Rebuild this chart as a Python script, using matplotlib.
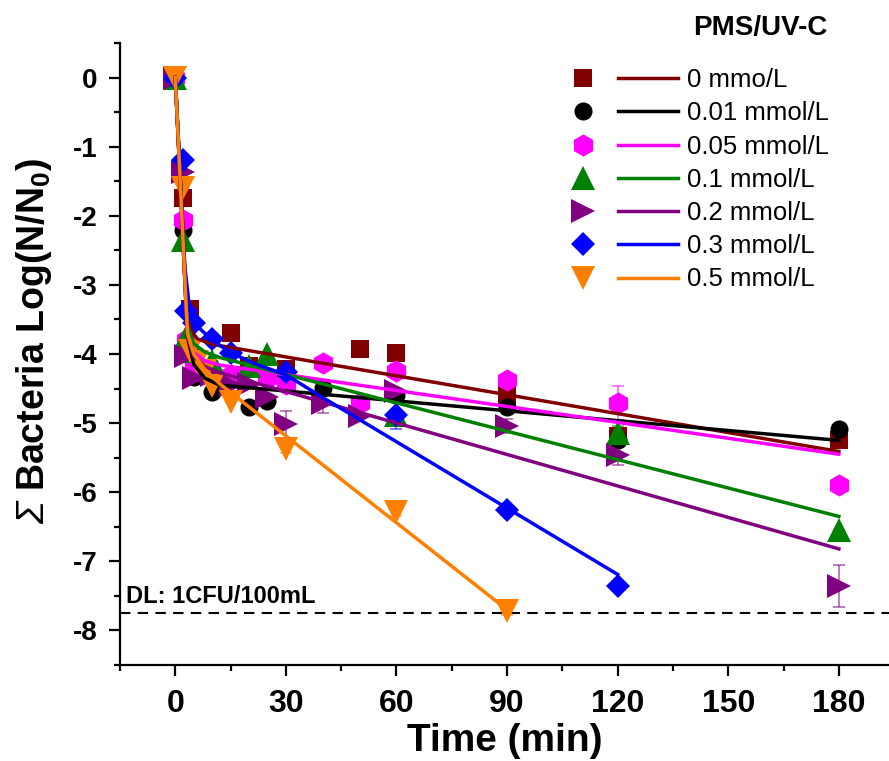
import numpy as np
import matplotlib
matplotlib.use('Agg')
import matplotlib.pyplot as plt
from matplotlib.lines import Line2D
from matplotlib.legend_handler import HandlerBase
from matplotlib.ticker import MultipleLocator

plt.rcParams['font.family'] = ['Liberation Sans', 'DejaVu Sans']
plt.rcParams['axes.unicode_minus'] = False
plt.rcParams['mathtext.fontset'] = 'custom'
plt.rcParams['mathtext.rm'] = 'Liberation Sans:bold'
plt.rcParams['mathtext.it'] = 'Liberation Sans:italic'
plt.rcParams['mathtext.bf'] = 'Liberation Sans:bold'
plt.rcParams['mathtext.cal'] = 'Liberation Sans:italic'

# measured points (time in min, log reduction)
labels = ['0 mmo/L', '0.01 mmol/L', '0.05 mmol/L', '0.1 mmol/L',
          '0.2 mmol/L', '0.3 mmol/L', '0.5 mmol/L']
colors = ['#800000', '#000000', '#ff00ff', '#008000', '#800080', '#0000ff', '#ff8000']
markers = ['s', 'o', 'h', '^', '>', 'D', 'v']
msizes = [13, 13, 16, 17, 17, 12.5, 17]

t_0 = [0, 2, 4, 15, 20, 30, 50, 60, 90, 120, 180]
y_0 = [0, -1.74, -3.35, -3.7, -4.17, -4.22, -3.93, -3.99, -4.59, -5.19, -5.24]
e_0 = [0, 0, 0, 0, 0, 0, 0, 0, 0, 0, 0]

t_01 = [0, 2, 3, 5, 10, 20, 25, 40, 60, 90, 120, 180]
y_01 = [0, -2.2, -3.94, -4.33, -4.55, -4.77, -4.68, -4.49, -4.59, -4.77, -5.24, -5.09]
e_01 = [0, 0, 0, 0, 0, 0, 0, 0, 0, 0, 0.1, 0]

t_05 = [0, 2, 3, 5, 15, 25, 30, 40, 50, 60, 90, 120, 180]
y_05 = [0, -2.06, -3.8, -4.18, -4.3, -4.35, -4.44, -4.13, -4.71, -4.25, -4.37, -4.71, -5.9]
e_05 = [0, 0, 0, 0, 0, 0, 0, 0, 0, 0.1, 0, 0.25, 0]

t_1 = [0, 2, 3, 5, 10, 20, 25, 60, 120, 180]
y_1 = [0, -2.35, -3.75, -3.95, -4.1, -4.18, -4.0, -4.88, -5.14, -6.54]
e_1 = [0, 0, 0, 0, 0, 0, 0, 0, 0.1, 0]

t_2 = [0, 2, 3, 5, 10, 15, 20, 25, 30, 40, 50, 60, 90, 120, 180]
y_2 = [0, -1.36, -4.03, -4.35, -4.3, -4.45, -4.44, -4.62, -5.02, -4.71, -4.9, -4.54, -5.04, -5.46, -7.36]
e_2 = [0, 0, 0, 0, 0, 0, 0, 0, 0.2, 0.15, 0, 0, 0.1, 0.15, 0.3]

t_3 = [0, 2, 3, 5, 10, 15, 30, 60, 90, 120]
y_3 = [0, -1.19, -3.38, -3.55, -3.79, -3.99, -4.26, -4.88, -6.25, -7.36]
e_3 = [0, 0, 0, 0, 0, 0, 0, 0.2, 0, 0.06]

t_5 = [0, 2, 4, 6, 8, 10, 15, 30, 60, 90]
y_5 = [0, -1.6, -3.96, -4.11, -4.25, -4.47, -4.69, -5.37, -6.28, -7.72]
e_5 = [0, 0, 0, 0, 0, 0, 0, 0.06, 0.06, 0.06]

# fitted curves, vertices
ft_0 = [0, 3.3, 4.5, 6, 10, 180]
fy_0 = [0, -3.5, -3.68, -3.78, -3.86, -5.41]
ft_01 = [0, 3.3, 5, 8, 12, 180]
fy_01 = [0, -3.75, -4.15, -4.35, -4.45, -5.25]
ft_05 = [0, 3.3, 5, 8, 12, 180]
fy_05 = [0, -3.7, -3.98, -4.1, -4.16, -5.45]
ft_1 = [0, 3.3, 5, 8, 12, 180]
fy_1 = [0, -3.6, -3.85, -3.97, -4.05, -6.35]
ft_2 = [0, 3.3, 5, 8, 12, 180]
fy_2 = [0, -3.75, -4.03, -4.18, -4.27, -6.82]
ft_3 = [0, 2.5, 4, 6, 10, 15, 22, 30, 40, 120]
fy_3 = [0, -2.7, -3.4, -3.6, -3.8, -3.98, -4.15, -4.3, -4.63, -7.19]
ft_5 = [0, 3.3, 5, 8, 12, 90]
fy_5 = [0, -3.7, -4.0, -4.22, -4.43, -7.7]

detection_limit = -7.75

points = [(t_0, y_0, e_0), (t_01, y_01, e_01), (t_05, y_05, e_05), (t_1, y_1, e_1),
          (t_2, y_2, e_2), (t_3, y_3, e_3), (t_5, y_5, e_5)]
fits = [(ft_0, fy_0), (ft_01, fy_01), (ft_05, fy_05), (ft_1, fy_1),
        (ft_2, fy_2), (ft_3, fy_3), (ft_5, fy_5)]


class MarkAndLine(HandlerBase):
    # marker on the left, a short line on the right, like the Origin legend
    def create_artists(self, legend, orig_handle, xdescent, ydescent,
                       width, height, fontsize, trans):
        y = height / 2.0 - ydescent
        mk = Line2D([-xdescent + width * 0.15], [y], linestyle='none',
                    marker=orig_handle.get_marker(),
                    markersize=orig_handle.get_markersize(),
                    color=orig_handle.get_color(), markeredgewidth=0)
        ln = Line2D([-xdescent + width * 0.46, -xdescent + width], [y, y],
                    color=orig_handle.get_color(), linewidth=2.5)
        mk.set_transform(trans)
        ln.set_transform(trans)
        return [mk, ln]


fig = plt.figure(figsize=(8.89, 7.61), dpi=100)
ax = fig.add_axes([120 / 889, 1 - 665 / 761, 1 - 120 / 889, (665 - 43) / 761])

handles = []
for i in range(len(labels)):
    t, y, e = points[i]
    ax.errorbar(t, y, yerr=e, fmt='none', ecolor=colors[i], elinewidth=1.2,
                capsize=4, capthick=1.2, alpha=0.6, zorder=2)
    h, = ax.plot(t, y, linestyle='none', marker=markers[i], markersize=msizes[i],
                 color=colors[i], markeredgewidth=0, zorder=3)
    handles.append(h)
for i in range(len(labels)):
    ft, fy = fits[i]
    ax.plot(ft, fy, color=colors[i], linewidth=2.5, zorder=4)

ax.axhline(detection_limit, color='black', linestyle=(0, (5, 3.5)), linewidth=1.5, zorder=1)
ax.text(-13.5, detection_limit + 0.08, 'DL: 1CFU/100mL', fontsize=17, fontweight='bold',
        ha='left', va='bottom')

ax.set_xlim(-15, 193.6)
ax.set_ylim(-8.5, 0.5)
ax.xaxis.set_major_locator(MultipleLocator(30))
ax.xaxis.set_minor_locator(MultipleLocator(15))
ax.yaxis.set_major_locator(MultipleLocator(1))
ax.yaxis.set_minor_locator(MultipleLocator(0.5))
ax.spines['top'].set_visible(False)
ax.spines['right'].set_visible(False)
for s in ['left', 'bottom']:
    ax.spines[s].set_linewidth(1.6)
ax.tick_params(which='major', direction='out', length=8, width=1.6)
ax.tick_params(which='minor', direction='out', length=4.5, width=1.6)
ax.tick_params(axis='y', labelsize=20, pad=8)
ax.tick_params(axis='x', labelsize=23, pad=9)
for lab in ax.get_xticklabels() + ax.get_yticklabels():
    lab.set_fontweight('bold')

ax.set_xlabel('Time (min)', fontsize=28, fontweight='bold', labelpad=3)
ax.set_ylabel(r'$\mathcal{Σ}$ Bacteria Log(N/N$_{0}$)', fontsize=27,
              fontweight='bold')
ax.yaxis.set_label_coords(-0.086, 0.52)

fig.text(760 / 889, 1 - 28 / 761, 'PMS/UV-C', fontsize=20, fontweight='bold',
         ha='center', va='center')

leg = fig.legend(handles, labels, loc='upper left',
                 bbox_to_anchor=(566 / 889, 1 - 68 / 761), frameon=False,
                 fontsize=18.5, handlelength=4.36, handletextpad=0.35,
                 labelspacing=0.36, borderpad=0, borderaxespad=0,
                 handler_map={Line2D: MarkAndLine()})

fig.savefig('out.png', dpi=100)
